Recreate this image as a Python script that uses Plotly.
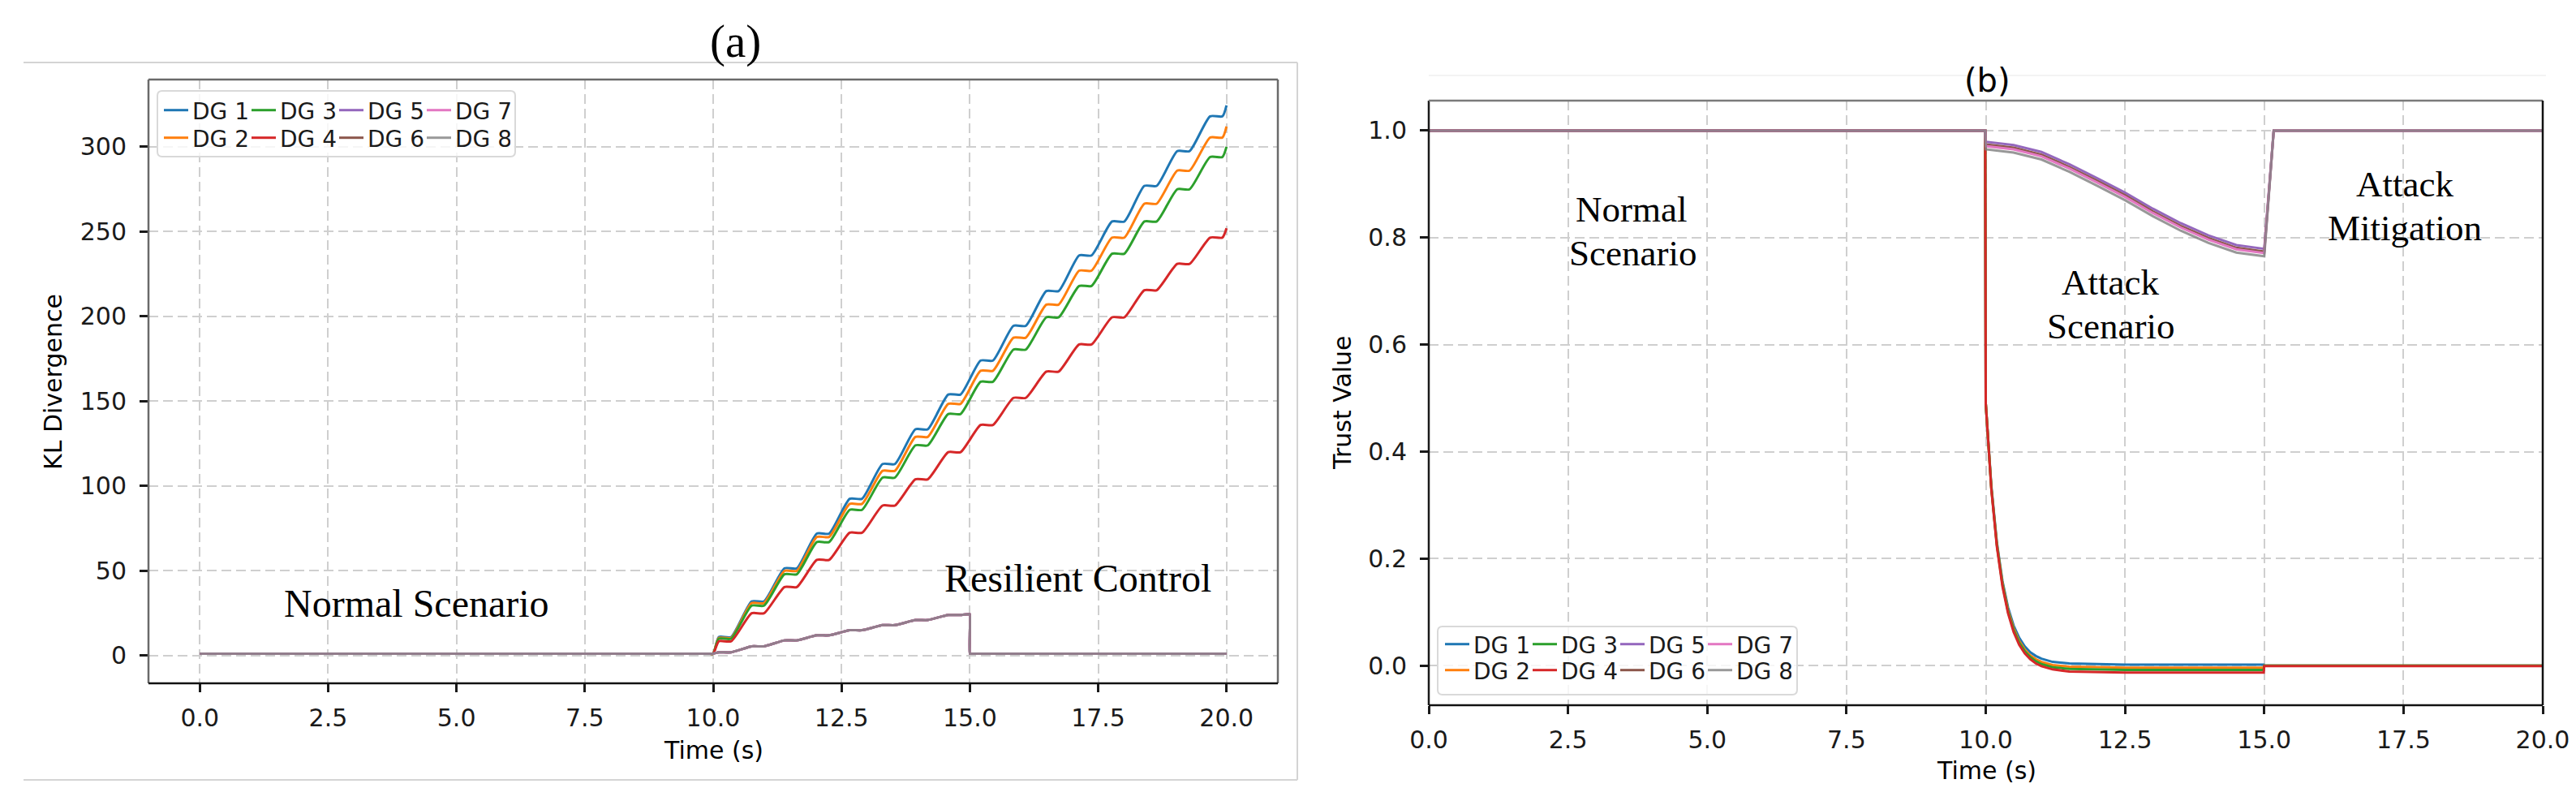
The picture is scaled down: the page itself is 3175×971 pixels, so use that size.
import plotly.graph_objects as go

# ---------------- shared ----------------
dg_names = ["DG 1", "DG 2", "DG 3", "DG 4", "DG 5", "DG 6", "DG 7", "DG 8"]
dg_colors = ["#1f77b4", "#ff7f0e", "#2ca02c", "#d62728",
             "#9467bd", "#8c564b", "#e377c2", "#7f7f7f"]

x_ticks = [0.0, 2.5, 5.0, 7.5, 10.0, 12.5, 15.0, 17.5, 20.0]
x_tick_text = ["0.0", "2.5", "5.0", "7.5", "10.0", "12.5", "15.0", "17.5", "20.0"]

# ---------------- panel (a): KL divergence ----------------
kl_y_ticks = [0, 50, 100, 150, 200, 250, 300]
kl_y_tick_text = ["0", "50", "100", "150", "200", "250", "300"]

kl_pre_time = [0.0, 9.9, 10.0]
kl_pre_value = 1.2
kl_plateau_start = [10.11, 10.75, 11.39, 12.02, 12.66, 13.30, 13.94, 14.58,
                    15.21, 15.85, 16.49, 17.13, 17.77, 18.40, 19.04, 19.68]
kl_plateau_end = [10.35, 10.99, 11.63, 12.26, 12.90, 13.54, 14.18, 14.82,
                  15.45, 16.09, 16.73, 17.37, 18.01, 18.64, 19.28, 19.92]
kl_levels_dg1 = [11, 32, 51.5, 72, 92.5, 113, 133.5, 154, 174, 194.5, 215, 236, 256, 277, 297.5, 318]
kl_levels_dg2 = [10.5, 31, 50, 70, 89.5, 109, 129, 148.5, 168, 187.5, 207, 227, 246.5, 266.5, 286, 305.5]
kl_levels_dg3 = [10, 29.5, 48, 67, 86, 105, 124, 142.5, 161.5, 180.5, 199.5, 218, 237, 256, 275, 294]
kl_levels_dg4 = [8.5, 25, 40.5, 56.5, 72.5, 88.5, 104, 120, 136, 152, 167.5, 183.5, 199.5, 215.5, 231, 246.5]
kl_final_time = 20.0
kl_final_dg1to4 = [324.5, 312.0, 300.0, 252.0]
kl_levels_dg5to8 = [2.0, 5.5, 9.0, 12.0, 15.0, 18.0, 21.0, 24.0]
kl_reset_time = 15.0
kl_reset_before = 24.5
kl_reset_after = 1.2

# ---------------- panel (b): trust value ----------------
trust_y_ticks = [0.0, 0.2, 0.4, 0.6, 0.8, 1.0]
trust_y_tick_text = ["0.0", "0.2", "0.4", "0.6", "0.8", "1.0"]

trust_time_low = [0.0, 9.99, 10.0, 10.1, 10.2, 10.3, 10.4, 10.5, 10.6, 10.7, 10.8,
                  10.9, 11.0, 11.2, 11.5, 12.5, 14.99, 15.0, 20.0]
trust_dg1 = [1.0, 1.0, 0.49, 0.336, 0.230, 0.158, 0.109, 0.075, 0.052, 0.036, 0.025,
             0.018, 0.013, 0.007, 0.004, 0.002, 0.002, 0.0, 0.0]
trust_dg2 = [1.0, 1.0, 0.49, 0.333, 0.227, 0.154, 0.104, 0.070, 0.046, 0.030, 0.019,
             0.012, 0.007, 0.001, -0.002, -0.004, -0.004, 0.0, 0.0]
trust_dg3 = [1.0, 1.0, 0.49, 0.332, 0.225, 0.152, 0.101, 0.067, 0.043, 0.027, 0.016,
             0.008, 0.003, -0.003, -0.006, -0.008, -0.008, 0.0, 0.0]
trust_dg4 = [1.0, 1.0, 0.49, 0.330, 0.222, 0.148, 0.098, 0.063, 0.039, 0.023, 0.012,
             0.004, -0.001, -0.007, -0.011, -0.013, -0.013, -0.001, -0.001]

trust_time_high = [0.0, 9.99, 10.0, 10.5, 11.0, 11.5, 12.0, 12.5, 13.0, 13.5, 14.0,
                   14.5, 15.0, 15.17, 20.0]
trust_dg5 = [1.0, 1.0, 0.979, 0.973, 0.960, 0.937, 0.911, 0.884, 0.854, 0.827, 0.804,
             0.786, 0.779, 1.0, 1.0]
trust_dg6 = [1.0, 1.0, 0.974, 0.968, 0.955, 0.932, 0.906, 0.879, 0.849, 0.822, 0.799,
             0.781, 0.774, 1.0, 1.0]
trust_dg7 = [1.0, 1.0, 0.971, 0.965, 0.952, 0.929, 0.903, 0.876, 0.846, 0.819, 0.796,
             0.778, 0.771, 1.0, 1.0]
trust_dg8 = [1.0, 1.0, 0.965, 0.959, 0.946, 0.923, 0.897, 0.870, 0.840, 0.813, 0.790,
             0.772, 0.765, 1.0, 1.0]

# ---------------- geometry helpers ----------------
W, H = 3175, 971


def fx(p):
    return p / W


def fy(p):
    return 1 - p / H


def build_steps(levels, n):
    xs = list(kl_pre_time)
    ys = [kl_pre_value] * len(kl_pre_time)
    for k in range(n):
        xs += [kl_plateau_start[k], kl_plateau_end[k]]
        ys += [levels[k], levels[k]]
    return xs, ys


fig = go.Figure()

row_legends_a = ["legend", "legend2"]
row_legends_b = ["legend3", "legend4"]

# panel (a) traces
levels_main = [kl_levels_dg1, kl_levels_dg2, kl_levels_dg3, kl_levels_dg4]
for i in range(8):
    if i < 4:
        xs, ys = build_steps(levels_main[i], len(kl_plateau_start))
        xs.append(kl_final_time)
        ys.append(kl_final_dg1to4[i])
    else:
        xs, ys = build_steps(kl_levels_dg5to8, len(kl_levels_dg5to8))
        xs += [kl_reset_time - 0.01, kl_reset_time, kl_reset_time, kl_reset_time + 0.01,
               kl_reset_time + 0.1, kl_final_time]
        ys += [kl_reset_before, kl_reset_before, kl_reset_after, kl_reset_after,
               kl_reset_after, kl_reset_after]
    fig.add_trace(go.Scatter(
        x=xs, y=ys, mode="lines", name=dg_names[i],
        line=dict(color=dg_colors[i], width=3, shape="spline", smoothing=0.6),
        opacity=0.8 if i == 7 else 1.0,
        xaxis="x", yaxis="y", legend=row_legends_a[i % 2]))

# panel (b) traces
trust_low = [trust_dg1, trust_dg2, trust_dg3, trust_dg4]
trust_high = [trust_dg5, trust_dg6, trust_dg7, trust_dg8]
for i in range(8):
    if i < 4:
        xs, ys = trust_time_low, trust_low[i]
    else:
        xs, ys = trust_time_high, trust_high[i - 4]
    fig.add_trace(go.Scatter(
        x=xs, y=ys, mode="lines", name=dg_names[i],
        line=dict(color=dg_colors[i], width=3),
        opacity=0.8 if i == 7 else 1.0,
        xaxis="x2", yaxis="y2", legend=row_legends_b[i % 2]))

tick_font = dict(family="DejaVu Sans", size=30, color="#1a1a1a")
grid_kw = dict(showgrid=True, gridcolor="#cfcfcf", gridwidth=2, griddash="12px,6px",
               zeroline=False, showline=False, ticks="outside", ticklen=10,
               tickwidth=2.5, tickcolor="#1a1a1a", tickfont=tick_font,
               automargin=False, fixedrange=True)

fig.update_layout(
    width=W, height=H, margin=dict(l=0, r=0, t=0, b=0),
    paper_bgcolor="white", plot_bgcolor="white", showlegend=True,
    xaxis=dict(domain=[fx(175), fx(1567)], range=[-1, 21], tickvals=x_ticks,
               ticktext=x_tick_text, anchor="y", ticklabelstandoff=6, **grid_kw),
    yaxis=dict(domain=[fy(834), fy(90)], range=[-16.3, 339.7], tickvals=kl_y_ticks,
               ticktext=kl_y_tick_text, anchor="x", ticklabelstandoff=10, **grid_kw),
    xaxis2=dict(domain=[fx(1753), fx(3126)], range=[0, 20], tickvals=x_ticks,
                ticktext=x_tick_text, anchor="y2", ticklabelstandoff=6, **grid_kw),
    yaxis2=dict(domain=[fy(861), fy(116)], range=[-0.074, 1.056], tickvals=trust_y_ticks,
                ticktext=trust_y_tick_text, anchor="x2", ticklabelstandoff=10, **grid_kw),
)

legend_common = dict(orientation="h", xanchor="left", yanchor="middle",
                     bgcolor="rgba(0,0,0,0)", borderwidth=0,
                     font=dict(family="DejaVu Sans", size=28, color="#1a1a1a"),
                     entrywidth=63, entrywidthmode="pixels", itemwidth=30,
                     traceorder="normal", itemclick=False, itemdoubleclick=False)
fig.update_layout(
    legend=dict(x=fx(189), y=fy(128), **legend_common),
    legend2=dict(x=fx(189), y=fy(162), **legend_common),
    legend3=dict(x=fx(1768), y=fy(786), **legend_common),
    legend4=dict(x=fx(1768), y=fy(818), **legend_common),
)


def rounded_rect(x0, y0, x1, y1, r):
    pts = (f"M {fx(x0 + r)} {fy(y0)} L {fx(x1 - r)} {fy(y0)} Q {fx(x1)} {fy(y0)} {fx(x1)} {fy(y0 + r)} "
           f"L {fx(x1)} {fy(y1 - r)} Q {fx(x1)} {fy(y1)} {fx(x1 - r)} {fy(y1)} "
           f"L {fx(x0 + r)} {fy(y1)} Q {fx(x0)} {fy(y1)} {fx(x0)} {fy(y1 - r)} "
           f"L {fx(x0)} {fy(y0 + r)} Q {fx(x0)} {fy(y0)} {fx(x0 + r)} {fy(y0)} Z")
    return pts


shapes = []
# legend frames
for box in [(186, 104, 627, 185), (1764, 764, 2207, 848)]:
    shapes.append(dict(type="path", path=rounded_rect(*box, 6), xref="paper", yref="paper",
                       line=dict(color="#d9d9d9", width=2), fillcolor="rgba(255,255,255,0.8)",
                       layer="above"))


def spine(xr, yr, x0, y0, x1, y1, color):
    return dict(type="line", xref=xr, yref=yr, x0=x0, y0=y0, x1=x1, y1=y1,
                line=dict(color=color, width=2.5), layer="above")


shapes += [
    spine("x domain", "y domain", 0, 0, 0, 1, "#6a6a6a"),
    spine("x domain", "y domain", 0, 1, 1, 1, "#6a6a6a"),
    spine("x domain", "y domain", 1, 0, 1, 1, "#6a6a6a"),
    spine("x domain", "y domain", 0, 0, 1, 0, "#111111"),
    spine("x2 domain", "y2 domain", 0, 0, 0, 1, "#1a1a1a"),
    spine("x2 domain", "y2 domain", 0, 1, 1, 1, "#7a7a7a"),
    spine("x2 domain", "y2 domain", 1, 0, 1, 1, "#111111"),
    spine("x2 domain", "y2 domain", 0, 0, 1, 0, "#111111"),
]
# panel (a) outer frame (document border)
frame_col = "#d4d4d4"
for (x0, y0, x1, y1) in [(21, 69, 1591, 69), (1591, 69, 1591, 953), (21, 953, 1591, 953)]:
    shapes.append(dict(type="line", xref="paper", yref="paper", x0=fx(x0), y0=fy(y0),
                       x1=fx(x1), y1=fy(y1), line=dict(color=frame_col, width=2)))
shapes.append(dict(type="line", xref="paper", yref="paper", x0=fx(1753), y0=fy(85),
                   x1=fx(3130), y1=fy(85), line=dict(color="#f3f3f3", width=2)))
fig.update_layout(shapes=shapes)

serif = "Liberation Serif, Times New Roman, serif"
sans = "DejaVu Sans"


def ann(text, x, y, size, family, xref="paper", yref="paper", angle=0):
    return dict(text=text, x=x, y=y, xref=xref, yref=yref, showarrow=False,
                xanchor="center", yanchor="middle", textangle=angle,
                font=dict(family=family, size=size, color="#000000"))


annotations = [
    ann("(a)", fx(898), fy(43), 57, serif),
    ann("(b)", fx(2441), fy(91), 40, sans),
    ann("KL Divergence", fx(57), fy(463), 30, sans, angle=-90),
    ann("Trust Value", fx(1647), fy(488), 30, sans, angle=-90),
    ann("Time (s)", fx(871), fy(916), 30, sans),
    ann("Time (s)", fx(2440), fy(941), 30, sans),
    ann("Normal Scenario", 4.22, 31, 48, serif, "x", "y"),
    ann("Resilient Control", 17.1, 45.5, 48, serif, "x", "y"),
    ann("Normal", 3.64, 0.853, 45, serif, "x2", "y2"),
    ann("Scenario", 3.67, 0.771, 45, serif, "x2", "y2"),
    ann("Attack", 12.24, 0.716, 45, serif, "x2", "y2"),
    ann("Scenario", 12.24, 0.634, 45, serif, "x2", "y2"),
    ann("Attack", 17.53, 0.900, 45, serif, "x2", "y2"),
    ann("Mitigation", 17.53, 0.818, 45, serif, "x2", "y2"),
]
fig.update_layout(annotations=annotations)

fig.write_html("out.html")
